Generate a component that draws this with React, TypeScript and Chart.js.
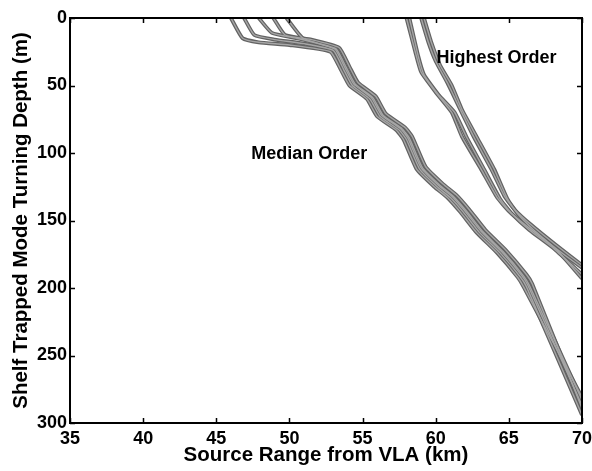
import React, { useEffect, useRef } from "react";
import { Chart, registerables } from "chart.js";

Chart.register(...registerables);

// ---- Data: [source range (km), turning depth (m)] ----
const xTickValues = [35, 40, 45, 50, 55, 60, 65, 70];
const yTickValues = [0, 50, 100, 150, 200, 250, 300];

const median1 = [[46.0, 0], [46.8, 15], [47.9, 18], [50.0, 20], [52.8, 25], [53.5, 38], [54.1, 50], [55.3, 60], [56.0, 73], [57.3, 83], [57.8, 90], [58.7, 112], [59.9, 125], [60.8, 133], [61.7, 144], [62.8, 159], [64.2, 174], [65.6, 192], [66.0, 199], [70, 281]];
const median2 = [[46.9, 0], [47.6, 12.6], [49.0, 16], [51.0, 19], [53.0, 24], [53.7, 38], [54.3, 50], [55.5, 60], [56.2, 73], [57.5, 83], [58.0, 90], [58.9, 112], [60.1, 125], [61.0, 133], [61.9, 144], [63.0, 159], [64.4, 174], [65.8, 192], [66.2, 199], [70, 294]];
const median3 = [[47.9, 0], [48.8, 11], [50.5, 15], [52.0, 19], [53.2, 23], [53.9, 37], [54.5, 49], [55.7, 59], [56.4, 72], [57.7, 82], [58.2, 89], [59.1, 111], [60.3, 124], [61.2, 132], [62.1, 143], [63.2, 158], [64.6, 173], [66.0, 191], [66.4, 198], [70, 283]];
const median4 = [[48.9, 0], [49.7, 12.6], [51.5, 16], [53.4, 22], [54.1, 36], [54.7, 48], [55.9, 58], [56.6, 71], [57.9, 81], [58.4, 88], [59.3, 110], [60.5, 123], [61.4, 131], [62.3, 142], [63.4, 157], [64.8, 172], [66.2, 190], [66.6, 197], [70, 289]];
const median5 = [[49.8, 0], [50.9, 14.8], [53.1, 23], [53.8, 37], [54.4, 49], [55.6, 59], [56.3, 72], [57.6, 82], [58.1, 89], [59.0, 111], [60.2, 124], [61.1, 132], [62.0, 143], [63.1, 158], [64.5, 173], [65.9, 191], [66.3, 198], [70, 287]];

const highest1 = [[58.0, 0], [58.6, 25], [59.0, 40], [60.0, 55], [61.1, 70], [61.8, 88], [63.1, 112], [64.2, 133], [65.0, 143], [66.2, 154], [68.0, 169], [70, 185]];
const highest2 = [[58.2, 0], [58.8, 28], [59.2, 42], [60.2, 57], [61.3, 70], [62.1, 88], [63.3, 112], [64.4, 134], [65.2, 145], [66.4, 157], [68.1, 171], [70, 190]];
const highest3 = [[59.0, 0], [59.5, 18], [60.0, 32], [60.8, 48], [61.6, 66], [62.6, 88], [63.8, 112], [64.7, 132], [65.4, 142], [66.5, 153], [68.2, 168], [70, 183]];
const highest4 = [[59.2, 0], [59.7, 18], [60.3, 35], [61.1, 50], [61.8, 68], [62.8, 88], [64.0, 112], [64.9, 134], [65.6, 145], [66.7, 157], [68.3, 172], [70, 193]];

const allLines = [median1, median2, median3, median4, median5, highest1, highest2, highest3, highest4];

const annotations = [
  { text: "Median Order", km: 51.35, depth: 101 },
  { text: "Highest Order", km: 64.15, depth: 30 },
];

const FONT = "'Liberation Sans', Arial, Helvetica, sans-serif";

const framePlugin = {
  id: "frameTicks",
  afterDraw(chart: any) {
    const { ctx, chartArea, scales } = chart;
    const { left, right, top, bottom } = chartArea;
    const x = scales.x;
    const y = scales.y;
    ctx.save();
    ctx.strokeStyle = "#000";
    ctx.lineWidth = 1.5;
    ctx.beginPath();
    xTickValues.forEach((v) => {
      const px = Math.round(x.getPixelForValue(v)) + 0.5;
      ctx.moveTo(px, bottom);
      ctx.lineTo(px, bottom - 5);
      ctx.moveTo(px, top);
      ctx.lineTo(px, top + 5);
    });
    yTickValues.forEach((v) => {
      const py = Math.round(y.getPixelForValue(v)) + 0.5;
      ctx.moveTo(left, py);
      ctx.lineTo(left + 5, py);
      ctx.moveTo(right, py);
      ctx.lineTo(right - 5, py);
    });
    ctx.stroke();
    ctx.lineWidth = 2;
    ctx.strokeRect(left, top, right - left, bottom - top);
    ctx.fillStyle = "#000";
    ctx.font = `bold 18px ${FONT}`;
    ctx.textAlign = "center";
    ctx.textBaseline = "middle";
    annotations.forEach((a) => {
      ctx.fillText(a.text, x.getPixelForValue(a.km), y.getPixelForValue(a.depth));
    });
    ctx.restore();
  },
};

export default function App() {
  const ref = useRef<HTMLCanvasElement | null>(null);

  useEffect(() => {
    if (!ref.current) return;
    const datasets: any[] = [];
    allLines.forEach((line, i) => {
      const data = line.map(([km, d]) => ({ x: km, y: d }));
      datasets.push({
        label: `outline${i}`,
        data,
        borderColor: "#626262",
        borderWidth: 3.8,
        pointRadius: 0,
        tension: 0.15,
        order: 2,
      });
      datasets.push({
        label: `core${i}`,
        data,
        borderColor: "#a6a6a6",
        borderWidth: 1.4,
        pointRadius: 0,
        tension: 0.15,
        order: 1,
      });
    });

    const chart = new Chart(ref.current, {
      type: "line",
      data: { datasets },
      options: {
        animation: false,
        responsive: true,
        maintainAspectRatio: false,
        devicePixelRatio: 1,
        layout: { padding: { top: 18, right: 10, left: 0, bottom: 0 } },
        plugins: { legend: { display: false }, tooltip: { enabled: false } },
        scales: {
          x: {
            type: "linear",
            min: 35,
            max: 70,
            grid: { display: false, drawTicks: false, tickLength: 0 },
            border: { display: false },
            afterBuildTicks: (s: any) => {
              s.ticks = xTickValues.map((v) => ({ value: v }));
            },
            afterFit: (s: any) => {
              s.height = 48;
              s.paddingLeft = 0;
              s.paddingRight = 0;
            },
            ticks: {
              color: "#000",
              padding: 5,
              maxRotation: 0,
              font: { family: FONT, size: 18, weight: "bold" },
            },
            title: {
              display: true,
              text: "Source Range from VLA (km)",
              color: "#000",
              padding: { top: 0, bottom: 3 },
              font: { family: FONT, size: 20.5, weight: "bold" },
            },
          },
          y: {
            type: "linear",
            min: 0,
            max: 300,
            reverse: true,
            grid: { display: false, drawTicks: false, tickLength: 0 },
            border: { display: false },
            afterBuildTicks: (s: any) => {
              s.ticks = yTickValues.map((v) => ({ value: v }));
            },
            afterFit: (s: any) => {
              s.width = 70;
              s.paddingTop = 0;
              s.paddingBottom = 0;
            },
            ticks: {
              color: "#000",
              padding: 3,
              font: { family: FONT, size: 18, weight: "bold" },
            },
            title: {
              display: true,
              text: "Shelf Trapped Mode Turning Depth (m)",
              color: "#000",
              padding: { top: 9, bottom: 0 },
              font: { family: FONT, size: 20.5, weight: "bold" },
            },
          },
        },
      },
      plugins: [framePlugin],
    });
    return () => chart.destroy();
  }, []);

  return (
    <div style={{ position: "absolute", left: 0, top: 0, width: 592, height: 471, background: "#fff" }}>
      <canvas ref={ref} />
    </div>
  );
}
